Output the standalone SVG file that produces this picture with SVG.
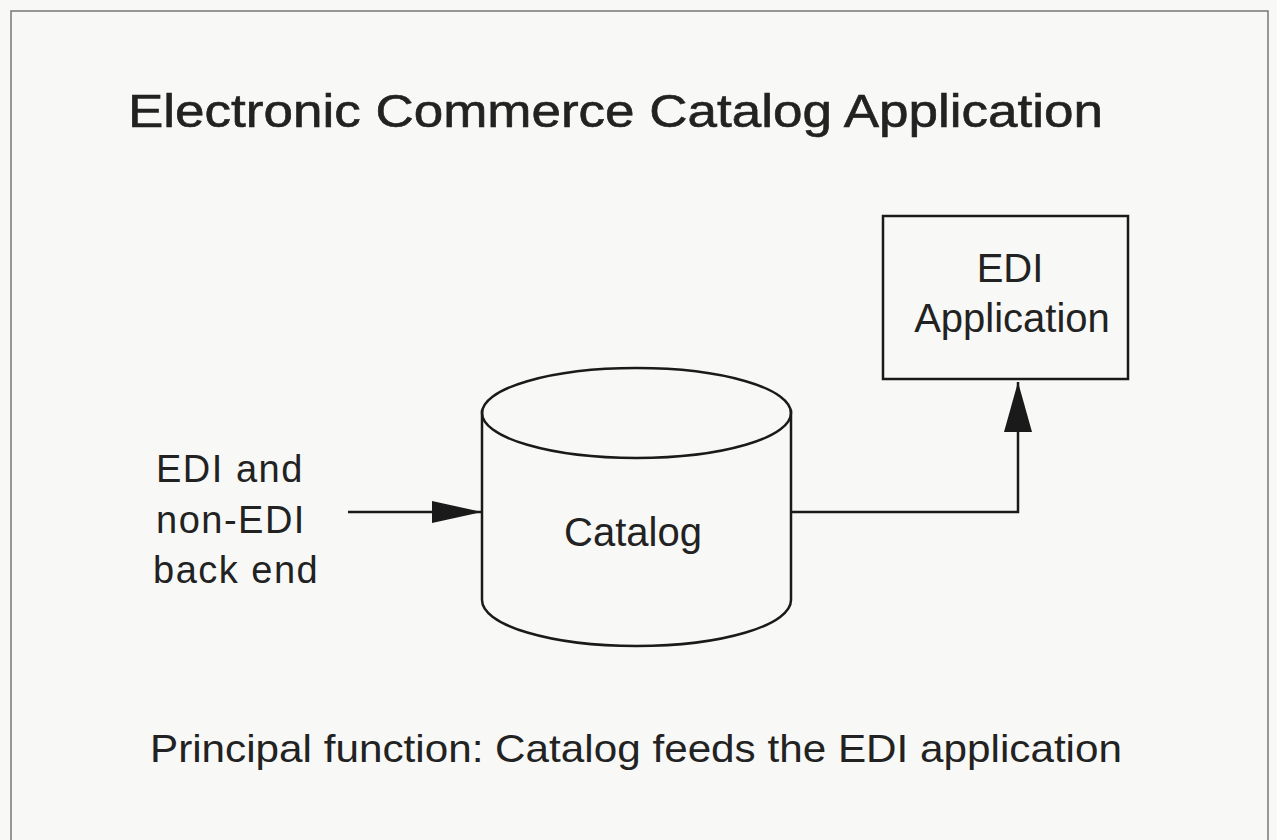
<svg xmlns="http://www.w3.org/2000/svg" width="1277" height="840" viewBox="0 0 1277 840">
<style>
.t{font-family:"Liberation Sans",Arial,sans-serif;fill:#222}
.s{fill:none;stroke:#1a1a1a;stroke-width:2.5}
</style>
<defs>
<marker id="ah" markerWidth="50" markerHeight="28" refX="50" refY="14" orient="auto" markerUnits="userSpaceOnUse">
<path d="M0,0 L50,14 L0,28 Z" fill="#1a1a1a"/>
</marker>
<marker id="ah2" markerWidth="50" markerHeight="22" refX="50" refY="11" orient="auto" markerUnits="userSpaceOnUse">
<path d="M0,0 L50,11 L0,22 Z" fill="#1a1a1a"/>
</marker>
</defs>
<rect width="1277" height="840" fill="#f8f8f6"/>
<path d="M11,840 V11 H1268 V840" fill="none" stroke="#777" stroke-width="1.5"/>
<text class="t" x="128" y="127" font-size="46" stroke="#222" stroke-width="0.6" textLength="975" lengthAdjust="spacingAndGlyphs">Electronic Commerce Catalog Application</text>
<g id="catalog">
<path class="s" d="M482,410 V600 A154.5,46 0 0 0 791,600 V410" fill="#fbfbf9"/>
<ellipse class="s" cx="636.5" cy="413" rx="154.5" ry="45" fill="#fbfbf9"/>
<text class="t" x="633" y="546" font-size="40" text-anchor="middle">Catalog</text>
</g>
<g id="edi-app">
<rect class="s" x="883" y="216" width="245" height="163"/>
<text class="t" x="1010" y="282" font-size="40" text-anchor="middle">EDI</text>
<text class="t" x="1012" y="332" font-size="40" text-anchor="middle">Application</text>
</g>
<g id="source">
<text class="t" x="156" y="482" font-size="38" letter-spacing="1.5">EDI and</text>
<text class="t" x="156" y="533" font-size="38" letter-spacing="1.5">non-EDI</text>
<text class="t" x="153" y="583" font-size="38" letter-spacing="1.5">back end</text>
</g>
<g id="connectors">
<path class="s" d="M348,512 H482" marker-end="url(#ah2)"/>
<path class="s" d="M791,512 H1018 V382" marker-end="url(#ah)"/>
</g>
<text class="t" x="150" y="762" font-size="39" textLength="972" lengthAdjust="spacingAndGlyphs">Principal function:  Catalog feeds the EDI application</text>
</svg>
